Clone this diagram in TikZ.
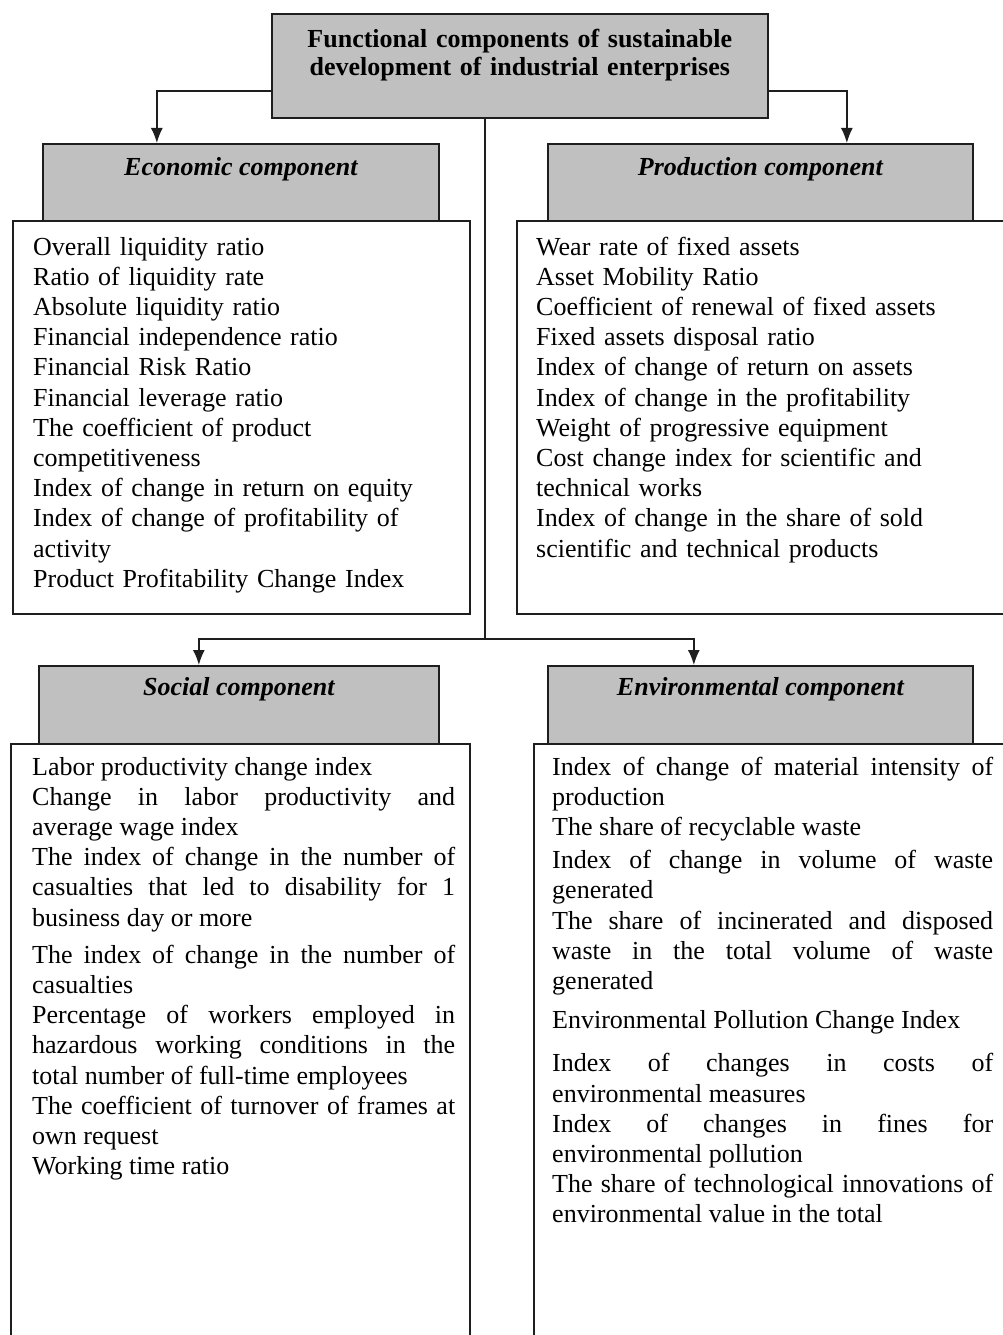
\documentclass[tikz,border=0pt]{standalone}
\usepackage{fontspec}
\setmainfont{Liberation Serif}
\usetikzlibrary{arrows.meta}
\definecolor{boxgray}{RGB}{192,192,192}
\definecolor{linegray}{RGB}{30,30,30}
\hyphenpenalty=10000
\exhyphenpenalty=10000
\tolerance=10000

\begin{document}
\begin{tikzpicture}[x=1pt,y=-1pt,>={Latex[length=15pt,width=12pt]},
    topbox/.style={draw=linegray,line width=1.7pt,fill=boxgray,inner sep=0pt,anchor=north west,font=\fontsize{26}{28}\selectfont\bfseries},
    headbox/.style={draw=linegray,line width=1.7pt,fill=boxgray,inner sep=0pt,anchor=north west,font=\fontsize{26}{30}\selectfont\bfseries\itshape},
    listbox/.style={draw=linegray,line width=1.7pt,fill=white,inner sep=0pt,anchor=north west},
    listtext/.style={inner sep=0pt,anchor=base west,font=\fontsize{26}{30.2}\selectfont},
    link/.style={draw=linegray,line width=1.5pt}]
    \useasboundingbox (0,0) rectangle (1002,1335);
    \node [topbox,text width=496pt,align=center,text height=34pt,text depth=70pt] (goal) at (271,13) {Functional components of sustainable\\development of industrial enterprises};
    \node [listbox,minimum width=457pt,minimum height=393pt] (econlist) at (12,220) {};
    \node [listbox,minimum width=500pt,minimum height=393pt] (prodlist) at (516,220) {};
    \node [listbox,minimum width=459pt,minimum height=620pt] (soclist) at (10,743) {};
    \node [listbox,minimum width=480pt,minimum height=620pt] (envlist) at (533,743) {};
    \node [headbox,minimum width=396pt,text height=32pt,text depth=45pt] (econ) at (42,143) {Economic component};
    \node [headbox,minimum width=425pt,text height=32pt,text depth=45pt] (prod) at (547,143) {Production component};
    \node [headbox,minimum width=400pt,text height=30pt,text depth=48pt] (soc) at (38,665) {Social component};
    \node [headbox,minimum width=425pt,text height=30pt,text depth=48pt] (env) at (547,665) {Environmental component};
    \node [listtext,text width=430pt,align=left] (econtext) at ([xshift=21pt,yshift=-35pt]econlist.north west) {Overall liquidity ratio\\Ratio of liquidity rate\\Absolute liquidity ratio\\Financial independence ratio\\Financial Risk Ratio\\Financial leverage ratio\\The coefficient of product\\competitiveness\\Index of change in return on equity\\Index of change of profitability of\\activity\\Product Profitability Change Index};
    \node [listtext,text width=440pt,align=left] (prodtext) at ([xshift=20pt,yshift=-35pt]prodlist.north west) {Wear rate of fixed assets\\Asset Mobility Ratio\\Coefficient of renewal of fixed assets\\Fixed assets disposal ratio\\Index of change of return on assets\\Index of change in the profitability\\Weight of progressive equipment\\Cost change index for scientific and\\technical works\\Index of change in the share of sold\\scientific and technical products};
    \node [listtext,text width=423pt,align=justify] (soctext) at ([xshift=22pt,yshift=-32pt]soclist.north west) {Labor productivity change index\par
    Change in labor productivity and\linebreak average wage index\par
    The index of change in the number of\linebreak casualties that led to disability for 1\linebreak business day or more\par\vspace{7pt}
    The index of change in the number of\linebreak casualties\par
    Percentage of workers employed in\linebreak hazardous working conditions in the\linebreak total number of full-time employees\par
    The coefficient of turnover of frames at\linebreak own request\par
    Working time ratio};
    \node [listtext,text width=441pt,align=justify] (envtext) at ([xshift=19pt,yshift=-32pt]envlist.north west) {Index of change of material intensity of\linebreak production\par
    The share of recyclable waste\par\vspace{3pt}
    Index of change in volume of waste\linebreak generated\par
    The share of incinerated and disposed\linebreak waste in the total volume of waste\linebreak generated\par\vspace{9pt}
    Environmental Pollution Change Index\par\vspace{13pt}
    Index of changes in costs of\linebreak environmental measures\par
    Index of changes in fines for\linebreak environmental pollution\par
    The share of technological innovations of\linebreak environmental value in the total};
    \coordinate (fork) at (485,639);
    \draw [link,->] ([yshift=-25pt]goal.west) -| ([xshift=-84pt]econ.north);
    \draw [link,->] ([yshift=-25pt]goal.east) -| ([xshift=86.5pt]prod.north);
    \draw [link] (goal.south -| fork) -- (fork);
    \draw [link,->] (fork) -| ([xshift=-40pt]soc.north);
    \draw [link,->] (fork) -| ([xshift=-66.5pt]env.north);
\end{tikzpicture}
\end{document}
